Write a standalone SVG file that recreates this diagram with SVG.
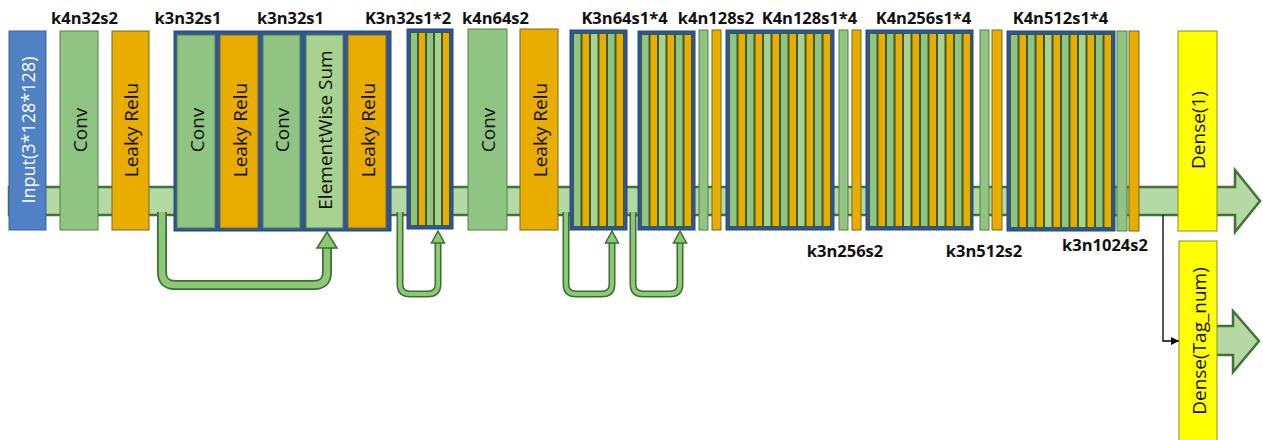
<svg xmlns="http://www.w3.org/2000/svg" width="1263" height="440" viewBox="0 0 1263 440">
<style>
text{font-family:"Open Sans","Noto Sans","DejaVu Sans",sans-serif}
.lbl{font-size:16.5px;font-weight:bold;fill:#111;text-anchor:middle}
.vt{font-size:19px;fill:#111;text-anchor:middle;dominant-baseline:central}
.g{fill:#90c482;stroke:#55803f;stroke-width:1}
.lg{fill:#a8d290;stroke:#55803f;stroke-width:1}
.o{fill:#e9ad00;stroke:#6e6a24;stroke-width:1}
.inp{fill:#4f81c4;stroke:#3a659c;stroke-width:1}
.y{fill:#ffff00;stroke:#8c8c2c;stroke-width:1}
.frame{fill:#2f5597;stroke:#27497f;stroke-width:1}
.innerbg{fill:#3c5c2c}
.tg{fill:#90c482;stroke:#3c5c2c;stroke-width:1}
.tlg{fill:#a8d290;stroke:#3c5c2c;stroke-width:1}
.to{fill:#e9ad00;stroke:#3c5c2c;stroke-width:1}
.band{fill:#b4d9a4;stroke:#44703a;stroke-width:2.5;stroke-linejoin:miter}
.tubeo{fill:none;stroke:#3f6d31;stroke-linejoin:round}
.tubei{fill:none;stroke:#8cc976;stroke-linejoin:round}
.head{fill:#8cc976;stroke:#3f6d31;stroke-width:1.5;stroke-linejoin:miter}
</style>
<defs>
<marker id="ah" viewBox="0 0 10 10" refX="10" refY="5" markerWidth="8" markerHeight="8" markerUnits="userSpaceOnUse" orient="auto">
<path d="M0,0 L10,5 L0,10 z" fill="#000"/>
</marker>
</defs>

<g id="connectors">
  <path class="band" d="M9,187 H1235 V170 L1260,201 L1235,232 V215 H9 Z"/>
  <path class="band" d="M1212,326 H1233 V311 L1259,341 L1233,372 V355 H1212 Z"/>
  <path d="M1163,215 V341 H1179" fill="none" stroke="#000" stroke-width="1.3" marker-end="url(#ah)"/>
  <!-- skip 1 -->
  <path class="tubeo" stroke-width="10" d="M162,212 V272 Q162,285 175,285 H314 Q327,285 327,272 V246"/>
  <path class="tubei" stroke-width="6.5" d="M162,212 V272 Q162,285 175,285 H314 Q327,285 327,272 V246"/>
  <polygon class="head" points="327,232 337,248 317,248"/>
  <!-- skip 2 -->
  <path class="tubeo" stroke-width="7" d="M400,212 V284 Q400,294 410,294 H428 Q438,294 438,284 V242"/>
  <path class="tubei" stroke-width="4" d="M400,212 V284 Q400,294 410,294 H428 Q438,294 438,284 V242"/>
  <polygon class="head" points="438,231 444.5,243 431.5,243"/>
  <!-- skip 3 -->
  <path class="tubeo" stroke-width="7" d="M566,212 V284 Q566,294 576,294 H602 Q612,294 612,284 V242"/>
  <path class="tubei" stroke-width="4" d="M566,212 V284 Q566,294 576,294 H602 Q612,294 612,284 V242"/>
  <polygon class="head" points="612,231 618.5,243 605.5,243"/>
  <!-- skip 4 -->
  <path class="tubeo" stroke-width="7" d="M633,212 V284 Q633,294 643,294 H670 Q680,294 680,284 V242"/>
  <path class="tubei" stroke-width="4" d="M633,212 V284 Q633,294 643,294 H670 Q680,294 680,284 V242"/>
  <polygon class="head" points="680,231 686.5,243 673.5,243"/>
</g>

<g id="labels">
  <text class="lbl" x="84.5" y="24">k4n32s2</text>
  <text class="lbl" x="188" y="24">k3n32s1</text>
  <text class="lbl" x="290.5" y="24">k3n32s1</text>
  <text class="lbl" x="408" y="24">K3n32s1*2</text>
  <text class="lbl" x="495.5" y="24">k4n64s2</text>
  <text class="lbl" x="624.5" y="24">K3n64s1*4</text>
  <text class="lbl" x="716" y="24">k4n128s2</text>
  <text class="lbl" x="809.5" y="24">K4n128s1*4</text>
  <text class="lbl" x="923.5" y="24">K4n256s1*4</text>
  <text class="lbl" x="1060.5" y="24">K4n512s1*4</text>
  <text class="lbl" x="845" y="257">k3n256s2</text>
  <text class="lbl" x="984" y="257">k3n512s2</text>
  <text class="lbl" x="1105" y="251">k3n1024s2</text>
</g>

<g id="input">
  <rect class="inp" x="9" y="31" width="37" height="199"/>
  <text class="vt" transform="translate(28,130) rotate(-90)" style="fill:#fff;font-size:18px">Input(3*128*128)</text>
</g>
<g id="conv1">
  <rect class="g" x="60" y="31" width="38" height="199"/>
  <text class="vt" transform="translate(80,130) rotate(-90)">Conv</text>
</g>
<g id="relu1">
  <rect class="o" x="112" y="31" width="37" height="199"/>
  <text class="vt" transform="translate(131,130) rotate(-90)">Leaky Relu</text>
</g>

<g id="resblock1">
  <rect class="frame" x="174" y="31" width="217" height="200"/>
  <rect class="g" x="177" y="35" width="38" height="193"/>
  <text class="vt" transform="translate(197,130) rotate(-90)">Conv</text>
  <rect class="o" x="220" y="35" width="38" height="193"/>
  <text class="vt" transform="translate(240,130) rotate(-90)">Leaky Relu</text>
  <rect class="g" x="263" y="35" width="37" height="193"/>
  <text class="vt" transform="translate(282,130) rotate(-90)">Conv</text>
  <rect class="lg" x="306" y="35" width="37" height="193"/>
  <text class="vt" transform="translate(325,130) rotate(-90)">ElementWise Sum</text>
  <rect class="o" x="348" y="35" width="38" height="193"/>
  <text class="vt" transform="translate(368,130) rotate(-90)">Leaky Relu</text>
</g>

<g id="block_k3n32x2">
  <rect class="frame" x="407" y="29" width="46" height="200"/>
  <rect class="innerbg" x="410" y="32" width="40" height="194"/>
  <rect class="tg" x="410.5" y="32.5" width="7" height="193"/>
  <rect class="to" x="418.5" y="32.5" width="7" height="193"/>
  <rect class="tg" x="426.5" y="32.5" width="7" height="193"/>
  <rect class="tlg" x="434.5" y="32.5" width="7" height="193"/>
  <rect class="to" x="442.5" y="32.5" width="7" height="193"/>
</g>

<g id="conv2">
  <rect class="g" x="468" y="29" width="39" height="201"/>
  <text class="vt" transform="translate(488,130) rotate(-90)">Conv</text>
</g>
<g id="relu2">
  <rect class="o" x="520" y="29" width="38" height="201"/>
  <text class="vt" transform="translate(540,130) rotate(-90)">Leaky Relu</text>
</g>

<g id="block_k3n64_a">
  <rect class="frame" x="570" y="30" width="57" height="200"/>
  <rect class="innerbg" x="573" y="33" width="51" height="194"/>
  <rect class="tg" x="573.5" y="33.5" width="7.5" height="193"/>
  <rect class="to" x="582" y="33.5" width="7.5" height="193"/>
  <rect class="tlg" x="590.5" y="33.5" width="7.5" height="193"/>
  <rect class="to" x="599" y="33.5" width="7.5" height="193"/>
  <rect class="tg" x="607.5" y="33.5" width="7.5" height="193"/>
  <rect class="to" x="616" y="33.5" width="7.5" height="193"/>
</g>
<g id="block_k3n64_b">
  <rect class="frame" x="638" y="31" width="57" height="199"/>
  <rect class="innerbg" x="641" y="34" width="51" height="193"/>
  <rect class="tg" x="641.5" y="34.5" width="7.5" height="192"/>
  <rect class="to" x="650" y="34.5" width="7.5" height="192"/>
  <rect class="tlg" x="658.5" y="34.5" width="7.5" height="192"/>
  <rect class="to" x="667" y="34.5" width="7.5" height="192"/>
  <rect class="tg" x="675.5" y="34.5" width="7.5" height="192"/>
  <rect class="to" x="684" y="34.5" width="7.5" height="192"/>
</g>

<g id="down_k4n128s2">
  <rect class="g" x="699" y="30" width="9" height="200"/>
  <rect class="o" x="712" y="30" width="9" height="200"/>
</g>

<g id="block_k4n128x4">
  <rect class="frame" x="726" y="30" width="108" height="200"/>
  <rect class="innerbg" x="729" y="33" width="102" height="194"/>
  <rect class="tg" x="729.5" y="33.5" width="7.5" height="193"/>
  <rect class="to" x="738" y="33.5" width="7.5" height="193"/>
  <rect class="tg" x="746.5" y="33.5" width="7.5" height="193"/>
  <rect class="to" x="755" y="33.5" width="7.5" height="193"/>
  <rect class="tlg" x="763.5" y="33.5" width="7.5" height="193"/>
  <rect class="to" x="772" y="33.5" width="7.5" height="193"/>
  <rect class="tg" x="780.5" y="33.5" width="7.5" height="193"/>
  <rect class="to" x="789" y="33.5" width="7.5" height="193"/>
  <rect class="tlg" x="797.5" y="33.5" width="7.5" height="193"/>
  <rect class="to" x="806" y="33.5" width="7.5" height="193"/>
  <rect class="tg" x="814.5" y="33.5" width="7.5" height="193"/>
  <rect class="to" x="823" y="33.5" width="7.5" height="193"/>
</g>

<g id="down_k3n256s2">
  <rect class="g" x="839" y="30" width="9" height="200"/>
  <rect class="o" x="852" y="30" width="9" height="200"/>
</g>

<g id="block_k4n256x4">
  <rect class="frame" x="866" y="30" width="107" height="200"/>
  <rect class="innerbg" x="869" y="33" width="101" height="194"/>
  <rect class="tg" x="869.5" y="33.5" width="7.5" height="193"/>
  <rect class="to" x="878" y="33.5" width="7.5" height="193"/>
  <rect class="tg" x="886.5" y="33.5" width="7.5" height="193"/>
  <rect class="to" x="895" y="33.5" width="7.5" height="193"/>
  <rect class="tlg" x="903.5" y="33.5" width="7.5" height="193"/>
  <rect class="to" x="912" y="33.5" width="7.5" height="193"/>
  <rect class="tg" x="920.5" y="33.5" width="7.5" height="193"/>
  <rect class="to" x="929" y="33.5" width="7.5" height="193"/>
  <rect class="tlg" x="937.5" y="33.5" width="7.5" height="193"/>
  <rect class="to" x="946" y="33.5" width="7.5" height="193"/>
  <rect class="tg" x="954.5" y="33.5" width="7.5" height="193"/>
  <rect class="to" x="963" y="33.5" width="7.5" height="193"/>
</g>

<g id="down_k3n512s2">
  <rect class="g" x="980" y="30" width="9" height="200"/>
  <rect class="o" x="992" y="30" width="10" height="200"/>
</g>

<g id="block_k4n512x4">
  <rect class="frame" x="1007" y="31" width="108" height="200"/>
  <rect class="innerbg" x="1010" y="34" width="102" height="194"/>
  <rect class="tg" x="1010.5" y="34.5" width="7.5" height="193"/>
  <rect class="to" x="1019" y="34.5" width="7.5" height="193"/>
  <rect class="tg" x="1027.5" y="34.5" width="7.5" height="193"/>
  <rect class="to" x="1036" y="34.5" width="7.5" height="193"/>
  <rect class="tlg" x="1044.5" y="34.5" width="7.5" height="193"/>
  <rect class="to" x="1053" y="34.5" width="7.5" height="193"/>
  <rect class="tg" x="1061.5" y="34.5" width="7.5" height="193"/>
  <rect class="to" x="1070" y="34.5" width="7.5" height="193"/>
  <rect class="tlg" x="1078.5" y="34.5" width="7.5" height="193"/>
  <rect class="to" x="1087" y="34.5" width="7.5" height="193"/>
  <rect class="tg" x="1095.5" y="34.5" width="7.5" height="193"/>
  <rect class="to" x="1104" y="34.5" width="7.5" height="193"/>
</g>

<g id="down_k3n1024s2">
  <rect class="g" x="1117" y="31" width="10" height="200"/>
  <rect class="o" x="1129" y="31" width="10" height="200"/>
</g>

<g id="dense1">
  <rect class="y" x="1178" y="31" width="39" height="200"/>
  <text class="vt" transform="translate(1198,130) rotate(-90)">Dense(1)</text>
</g>
<g id="dense_tag">
  <rect class="y" x="1179" y="241" width="38" height="205"/>
  <text class="vt" transform="translate(1199,341) rotate(-90)">Dense(Tag_num)</text>
</g>
</svg>
